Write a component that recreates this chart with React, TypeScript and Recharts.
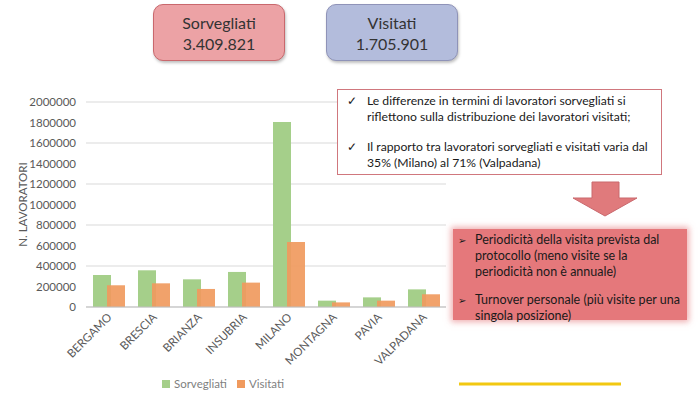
import { Bar, BarChart, CartesianGrid, Legend, XAxis, YAxis } from "recharts";

const categories = ["BERGAMO", "BRESCIA", "BRIANZA", "INSUBRIA", "MILANO", "MONTAGNA", "PAVIA", "VALPADANA"];
const sorvegliati = [312000, 358000, 270000, 342000, 1805000, 62000, 94000, 172000];
const visitati = [212000, 231000, 176000, 238000, 635000, 45000, 62000, 124000];
const yTicks = [0, 200000, 400000, 600000, 800000, 1000000, 1200000, 1400000, 1600000, 1800000, 2000000];

const totals = [
  { label: "Sorvegliati", value: "3.409.821" },
  { label: "Visitati", value: "1.705.901" },
];
const notes = [
  "Le differenze in termini di lavoratori sorvegliati si riflettono sulla distribuzione dei lavoratori visitati;",
  "Il rapporto tra lavoratori sorvegliati e visitati varia dal 35% (Milano) al 71% (Valpadana)",
];
const causes = [
  "Periodicità della visita prevista dal protocollo (meno visite se la periodicità non è annuale)",
  "Turnover personale (più visite per una singola posizione)",
];

const data = categories.map((name, i) => ({
  name,
  sorvegliati: sorvegliati[i],
  visitati: visitati[i],
}));

const FONT = "Lato, 'Open Sans', sans-serif";
const GREEN = "#a5cf8a";
const ORANGE = "#f09a5e";

function XTick({ x, y, payload }: any) {
  const tx = x + 4;
  const ty = y + 11;
  return (
    <text
      x={tx}
      y={ty}
      transform={`rotate(-45 ${tx} ${ty})`}
      textAnchor="end"
      fontSize={11.5}
      fill="#595959"
    >
      {payload.value}
    </text>
  );
}

export default function App() {
  return (
    <div
      style={{
        position: "absolute",
        left: 0,
        top: 0,
        width: 700,
        height: 396,
        background: "#fff",
        fontFamily: FONT,
        overflow: "hidden",
      }}
    >
      <BarChart
        width={700}
        height={396}
        data={data}
        margin={{ top: 102, right: 254, bottom: 0, left: 10 }}
        barSize={18}
        barGap={-4}
        style={{ fontFamily: FONT }}
      >
        <CartesianGrid vertical={false} stroke="#d9d9d9" />
        <XAxis
          dataKey="name"
          height={65}
          interval={0}
          tickLine={false}
          tickSize={0}
          tickMargin={0}
          stroke="#bfbfbf"
          tick={<XTick />}
        />
        <YAxis
          width={76}
          domain={[0, 2000000]}
          ticks={yTicks}
          axisLine={false}
          tickLine={false}
          tickSize={0}
          tickMargin={10}
          tick={{ fontSize: 11.5, fill: "#595959" }}
          label={{
            value: "N. LAVORATORI",
            angle: -90,
            position: "insideLeft",
            offset: 13,
            style: { textAnchor: "middle", fontSize: 11.5, fill: "#595959" },
          }}
        />
        <Legend
          verticalAlign="bottom"
          height={24}
          iconType="square"
          iconSize={8}
          formatter={(v: string) => <span style={{ color: "#7f7f7f", fontSize: 11.5 }}>{v}</span>}
        />
        <Bar dataKey="sorvegliati" name="Sorvegliati" fill={GREEN} isAnimationActive={false} />
        <Bar dataKey="visitati" name="Visitati" fill={ORANGE} fillOpacity={0.92} isAnimationActive={false} />
      </BarChart>

      {totals.map((t, i) => (
        <div
          key={t.label}
          style={{
            position: "absolute",
            left: i === 0 ? 153 : 326,
            top: 4,
            width: 132,
            height: 57,
            boxSizing: "border-box",
            borderRadius: 10,
            border: `1.5px solid ${i === 0 ? "#c9686d" : "#8f93b8"}`,
            background: i === 0 ? "#eca2a5" : "#b3bcdc",
            boxShadow: "1px 2px 3px rgba(0,0,0,0.25)",
            color: "#333",
            fontSize: 16,
            lineHeight: "21px",
            textAlign: "center",
            paddingTop: 7,
          }}
        >
          <div>{t.label}</div>
          <div>{t.value}</div>
        </div>
      ))}

      <div
        style={{
          position: "absolute",
          left: 337,
          top: 89,
          width: 325,
          height: 86,
          boxSizing: "border-box",
          background: "#fff",
          border: "1.5px solid #d0777d",
          padding: "3px 6px 0 9px",
          fontSize: 12.2,
          lineHeight: "16px",
          color: "#1a1a1a",
        }}
      >
        {notes.map((n, i) => (
          <div key={i} style={{ display: "flex", marginBottom: i === 0 ? 14 : 0 }}>
            <span style={{ width: 20, flexShrink: 0 }}>✓</span>
            <span>{n}</span>
          </div>
        ))}
      </div>

      <svg style={{ position: "absolute", left: 0, top: 0 }} width={700} height={396}>
        <polygon
          points="592,182 619,182 619,198 637,198 605,216 573,198 592,198"
          fill="#e07a7c"
          stroke="#c9686d"
          strokeWidth={1}
        />
        <line x1={459} y1={384} x2={621} y2={384} stroke="#f2c811" strokeWidth={3} />
      </svg>

      <div
        style={{
          position: "absolute",
          left: 453,
          top: 229,
          width: 234,
          height: 91,
          boxSizing: "border-box",
          background: "#e5787b",
          boxShadow: "0 0 6px 2px rgba(229,120,123,0.6)",
          padding: "3px 6px 0 5px",
          fontSize: 12.5,
          lineHeight: "16px",
          color: "#1a1a1a",
        }}
      >
        {causes.map((c, i) => (
          <div key={i} style={{ display: "flex", marginBottom: i === 0 ? 12 : 0 }}>
            <span style={{ width: 17, flexShrink: 0, fontSize: 10 }}>➢</span>
            <span>{c}</span>
          </div>
        ))}
      </div>
    </div>
  );
}
